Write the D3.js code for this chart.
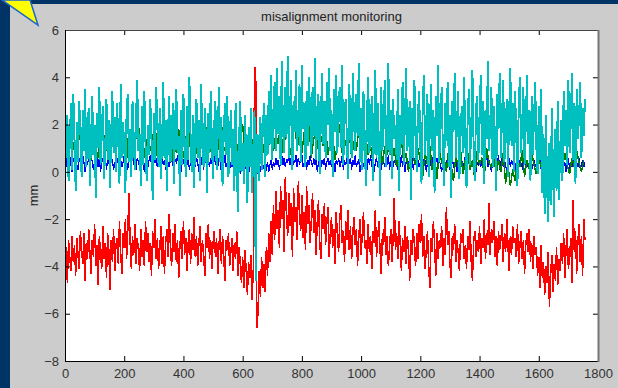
<!DOCTYPE html>
<html lang="en">
<head>
  <meta charset="UTF-8">
  <title>misalignment monitoring</title>
  <style>
    body { margin: 0; background: #003366; }
    svg { display: block; }
    text { font-family: "Liberation Sans", Arial, sans-serif; }
  </style>
</head>
<body>

<svg id="chart" width="618" height="388"></svg>

<script src="https://d3js.org/d3.v7.min.js"></script>

<script>

    // red, cyan, blue: one value every 4 samples; green: every 8 samples
    var redVals = [
      -4.0,-3.2,-4.7,-2.9,-3.6,-4.2,-2.7,-3.8,-3.1,-4.4,
      -2.8,-3.5,-4.1,-2.5,-3.3,-3.9,-2.6,-4.6,-3.0,-3.7,
      -2.4,-3.4,-4.3,-2.9,-3.6,-2.2,-4.0,-3.1,-4.8,-2.7,
      -3.5,-4.1,-2.3,-3.7,-3.0,-4.5,-2.6,-3.3,-5.0,-2.9,
      -3.8,-2.4,-4.2,-3.1,-2.8,-3.9,-2.1,-3.4,-4.3,-2.6,
      -3.2,-2.0,-3.7,-2.5,-0.9,-3.0,-4.1,-2.7,-3.5,-2.2,
      -3.9,-2.8,-3.3,-4.2,-2.4,-3.6,-2.9,-4.0,-2.1,-3.4,
      -2.6,-3.8,-3.0,-4.4,-2.5,-3.2,-2.0,-3.7,-2.8,-4.1,
      -3.3,-2.3,-3.9,-2.7,-4.3,-3.0,-2.4,-3.6,-1.8,-3.2,
      -4.0,-2.6,-3.4,-2.2,-3.8,-2.9,-4.5,-3.1,-2.5,-3.7,
      -2.1,-3.5,-2.8,-4.2,-3.0,-2.4,-3.9,-2.6,-3.3,-1.9,
      -3.6,-2.7,-4.0,-3.1,-2.3,-3.8,-2.9,-3.4,-4.4,-2.6,
      -3.2,-2.2,-3.7,-2.9,-4.1,-3.0,-2.5,-3.6,-2.8,-4.3,
      -3.1,-2.4,-3.9,-2.7,-3.5,-4.6,-2.9,-3.3,-2.6,-4.0,
      -3.4,-2.8,-4.2,-3.0,-3.7,-2.5,-4.4,-3.2,-3.9,-4.7,
      -3.6,-4.9,-3.3,-4.2,-5.2,-3.8,-4.5,-3.5,-5.4,-4.1,
      4.4,4.4,-6.6,-5.9,-4.2,-5.3,-3.6,-4.9,-3.9,-5.1,
      -3.2,-4.4,-2.6,-3.8,-2.1,-3.5,-1.4,-2.9,-0.8,-2.4,
      -1.6,-3.2,-0.6,-2.0,-1.2,-3.4,-0.2,-1.9,-2.7,-0.9,
      -2.3,-1.3,-3.6,-0.7,-2.1,-1.5,-2.9,-0.4,-1.8,-2.5,
      -1.0,-2.8,-1.7,-3.3,-0.6,-2.2,-1.4,-3.0,-2.0,-0.9,
      -2.6,-1.6,-3.5,-2.1,-1.2,-2.9,-3.7,-1.8,-2.4,-1.3,
      -3.1,-2.2,-1.5,-3.6,-2.6,-1.9,-3.2,-2.4,-3.9,-1.7,
      -2.7,-3.4,-2.0,-1.4,-3.0,-2.5,-3.8,-2.1,-2.9,-1.6,
      -3.3,-2.3,-3.7,-2.6,-1.9,-3.1,-2.4,-4.0,-2.8,-2.0,
      -3.5,-2.6,-1.7,-3.2,-2.9,-3.9,-2.2,-3.4,-2.7,-4.1,
      -2.5,-3.0,-1.6,-3.6,-2.8,-2.1,-3.3,-4.3,-2.6,-3.1,
      -1.9,-3.5,-2.7,-4.0,-3.2,-2.4,-3.8,-2.9,-1.1,-3.3,
      -2.6,-3.7,-2.1,-3.0,-4.2,-2.8,-3.4,-2.3,-3.9,-2.7,
      -3.2,-4.6,-2.9,-3.5,-2.4,-3.1,-4.0,-2.6,-3.7,-2.2,
      -3.0,-1.8,-3.6,-2.7,-4.1,-3.3,-2.5,-3.9,-4.9,-2.8,
      -3.4,-2.1,-3.0,-4.4,-2.6,-3.7,-2.9,-3.2,-2.3,-4.0,
      -2.8,-3.5,-1.5,-3.1,-2.5,-3.9,-4.5,-2.7,-3.3,-2.2,
      -3.8,-2.9,-3.4,-4.2,-2.6,-3.0,-2.4,-3.7,-3.1,-4.1,
      -2.7,-3.3,-2.1,-3.8,-4.6,-3.0,-2.5,-3.6,-2.9,-3.4,
      -2.3,-3.9,-2.8,-3.2,-2.0,-3.7,-2.6,-3.1,-1.3,-3.5,
      -2.4,-3.0,-2.1,-3.6,-2.7,-4.0,-2.5,-3.3,-2.9,-2.2,
      -3.8,-2.6,-3.4,-2.0,-3.1,-4.2,-2.7,-3.5,-2.3,-3.0,
      -2.8,-3.6,-2.2,-3.9,-3.2,-2.5,-3.7,-2.9,-4.3,-3.1,
      -2.6,-3.4,-2.4,-3.8,-3.0,-4.1,-2.7,-3.5,-3.2,-4.4,
      -3.6,-4.9,-3.1,-4.5,-3.8,-5.2,-4.0,-4.7,-3.4,-5.7,
      -4.4,-3.5,-5.1,-3.9,-4.6,-3.2,-4.8,-3.7,-4.2,-3.0,
      -3.9,-2.6,-4.5,-3.3,-2.4,-4.1,-3.6,-2.8,-4.7,-1.2,
      -3.4,-2.5,-4.3,-3.0,-2.2,-3.8,-2.7,-4.4,-2.0,-2.9
    ];

    var cyanVals = [
      3.8,0.6,2.4,-0.4,1.2,2.9,0.1,3.3,1.5,-0.8,
      2.1,0.4,3.0,1.7,-0.2,2.6,0.9,3.5,0.2,1.8,
      2.7,-0.6,1.4,3.2,0.7,2.0,-1.1,2.5,1.0,3.6,
      0.3,1.9,2.8,-0.3,1.1,3.1,0.5,2.2,-0.7,1.6,
      3.4,0.8,2.3,0.0,2.9,1.3,-0.5,3.7,0.6,2.1,
      1.2,-0.9,2.6,3.3,0.4,1.8,-0.2,3.0,1.5,0.1,
      2.4,3.9,0.9,1.6,-0.6,2.8,0.3,3.4,1.1,-0.4,
      2.0,0.7,3.1,1.4,-1.2,2.5,0.5,3.6,1.9,0.2,
      2.7,-0.3,1.3,3.8,0.6,2.2,-0.8,1.7,3.2,0.4,
      1.0,2.9,-0.5,2.3,3.5,0.8,1.5,-1.0,2.6,0.3,
      3.3,1.2,-0.2,2.8,0.5,4.0,1.6,0.0,2.4,-0.7,
      1.9,3.1,0.6,2.2,-0.4,3.7,1.0,0.2,2.7,1.4,
      -0.9,2.5,0.8,3.4,1.3,-0.3,2.0,3.0,0.1,1.7,
      3.6,0.4,2.3,-0.6,1.5,2.9,0.7,3.2,-0.2,1.1,
      2.6,0.3,1.8,-0.8,2.9,0.5,-1.7,1.4,3.0,0.0,
      1.2,-0.5,2.4,0.6,-1.3,1.9,0.2,2.7,-0.9,1.0,
      2.6,-4.6,1.6,1.5,-0.4,2.3,0.1,1.8,2.9,-0.2,
      2.4,0.7,3.4,1.2,4.1,0.5,2.6,3.8,0.9,4.4,
      1.6,3.2,0.3,4.7,2.0,0.8,3.6,1.4,4.9,0.6,
      2.8,3.9,0.1,3.0,1.7,4.3,0.9,2.5,3.7,0.4,
      4.5,1.8,2.9,0.2,3.4,1.1,4.0,2.3,0.7,3.6,
      1.5,4.8,0.5,2.7,3.3,-0.1,2.1,4.2,1.2,3.0,
      0.6,3.8,2.0,4.4,0.9,2.6,-0.2,3.5,1.7,4.1,
      0.8,2.9,3.6,1.0,4.5,0.3,2.4,3.1,1.4,-0.3,
      3.7,1.9,0.6,4.2,2.2,0.9,3.3,1.5,4.6,0.4,
      2.7,0.1,3.4,1.6,-0.6,2.5,4.0,0.8,2.0,3.2,
      -0.4,1.8,4.3,0.6,2.9,1.3,-1.0,3.6,0.9,2.3,
      3.9,0.2,1.7,4.6,0.7,2.6,-0.3,3.1,1.4,2.0,
      0.5,3.5,-0.8,2.4,1.2,3.8,0.3,2.1,4.4,0.9,
      1.6,3.0,-1.2,2.7,0.6,3.9,1.9,0.0,2.5,3.4,
      1.1,-0.5,2.8,4.1,0.7,2.2,3.3,-0.2,1.8,3.7,
      0.9,2.6,-0.9,3.2,1.5,4.5,0.4,2.0,3.6,1.0,
      -0.6,2.9,1.3,3.8,0.2,2.4,-1.1,3.0,1.7,4.2,
      0.6,2.1,3.4,-0.3,1.6,2.8,0.8,4.0,1.2,-0.7,
      2.5,3.5,0.3,1.9,4.3,1.0,-0.4,2.7,3.2,0.5,
      2.2,4.1,0.7,3.0,-0.5,2.6,1.4,4.7,0.9,2.0,
      3.6,0.2,2.8,1.5,-0.8,3.3,1.8,4.2,0.6,2.4,
      3.9,0.4,1.7,3.1,-0.2,2.5,4.4,1.1,2.9,0.0,
      3.4,1.6,-0.6,2.7,4.0,0.8,2.1,3.6,0.3,1.9,
      4.1,1.2,2.6,-0.4,3.2,0.7,2.3,3.8,1.0,-0.1,
      2.8,0.5,3.5,-0.9,1.6,-1.8,2.4,-0.6,-2.1,1.2,
      -1.4,2.7,0.0,-1.9,1.8,-0.8,3.0,-1.2,0.9,2.2,
      -0.4,3.4,1.1,2.6,0.3,3.9,0.8,2.0,4.2,0.5,
      2.9,-0.5,3.5,1.4,2.3,3.8,0.6,2.7,1.5,3.1
    ];

    var blueVals = [
      0.2,0.6,0.1,0.5,0.7,0.3,0.0,0.6,0.4,0.8,
      0.3,0.1,0.5,0.6,0.2,0.7,0.4,0.0,0.5,0.3,
      0.6,0.2,0.8,0.4,0.1,0.5,0.3,0.7,0.2,0.6,
      0.0,0.4,0.6,0.3,0.7,0.1,0.5,0.4,0.2,0.6,
      0.5,0.1,0.3,0.7,0.4,0.6,0.0,0.5,0.2,0.4,
      0.7,0.3,0.5,0.1,0.6,0.4,0.2,0.8,0.3,0.5,
      0.1,0.6,0.4,0.2,0.7,0.3,0.5,0.0,0.6,0.4,
      0.2,0.5,0.7,0.3,0.1,0.6,0.4,0.5,0.2,0.7,
      0.4,0.0,0.6,0.3,0.5,0.1,0.7,0.4,0.2,0.5,
      0.6,0.3,0.1,0.5,0.4,0.7,0.2,0.6,0.0,0.4,
      0.5,0.2,0.7,0.3,0.6,0.1,0.4,0.5,0.3,0.8,
      0.2,0.6,0.4,0.0,0.5,0.3,0.7,0.1,0.6,0.4,
      0.3,0.5,0.2,0.6,0.4,0.1,0.7,0.3,0.5,0.2,
      0.6,0.4,0.0,0.5,0.3,0.7,0.2,0.4,0.6,0.1,
      0.4,0.2,0.5,0.0,0.3,0.6,0.1,0.4,-0.1,0.3,
      0.2,-0.2,0.4,0.1,0.3,-0.1,0.2,0.5,0.0,0.3,
      -0.3,0.1,0.2,-0.1,0.3,0.0,0.4,0.1,0.3,-0.2,
      0.2,0.4,0.0,0.3,0.5,0.1,0.4,0.2,0.6,0.3,
      0.5,0.1,0.4,0.7,0.3,0.6,0.2,0.5,0.4,0.8,
      0.3,0.6,0.1,0.5,0.4,0.7,0.2,0.6,0.3,0.5,
      0.7,0.2,0.4,0.6,0.1,0.5,0.3,0.7,0.4,0.2,
      0.6,0.3,0.5,0.0,0.4,0.7,0.2,0.5,0.3,0.6,
      0.1,0.4,0.6,0.3,0.5,0.2,0.7,0.4,0.0,0.5,
      0.3,0.6,0.2,0.4,0.7,0.1,0.5,0.3,0.6,0.2,
      0.4,0.6,0.1,0.5,0.3,0.7,0.2,0.4,0.5,0.0,
      0.3,0.6,0.2,0.5,0.4,0.1,0.6,0.3,0.7,0.2,
      0.5,0.0,0.4,0.6,0.2,0.5,0.3,0.1,0.6,0.4,
      0.2,0.5,0.3,0.7,0.1,0.4,0.6,0.2,0.5,0.3,
      0.6,0.1,0.4,0.3,0.7,0.2,0.5,0.0,0.4,0.6,
      0.3,0.5,0.2,0.6,0.1,0.4,0.7,0.3,0.5,0.2,
      0.4,0.1,0.6,0.3,0.5,0.0,0.4,0.6,0.2,0.5,
      0.3,0.7,0.1,0.4,0.6,0.2,0.5,0.3,0.0,0.4,
      0.6,0.2,0.5,0.3,0.7,0.1,0.4,0.6,0.2,0.3,
      0.5,0.0,0.4,0.6,0.3,0.5,0.1,0.4,0.7,0.2,
      0.4,0.6,0.1,0.3,0.5,0.2,0.6,0.0,0.4,0.3,
      0.5,0.2,0.6,0.3,0.1,0.4,0.7,0.2,0.5,0.3,
      0.0,0.4,0.6,0.2,0.5,0.3,0.7,0.1,0.4,0.6,
      0.2,0.5,0.3,0.0,0.4,0.6,0.2,0.5,0.3,0.7,
      0.1,0.4,0.6,0.3,0.5,0.2,0.4,0.0,0.6,0.3,
      0.5,0.2,0.4,0.6,0.1,0.3,0.5,0.2,0.4,0.0,
      0.3,0.5,0.1,0.4,0.2,0.6,0.0,0.3,0.5,0.2,
      0.4,0.1,0.3,0.6,0.2,0.5,0.0,0.4,0.3,0.1,
      0.5,0.2,0.4,0.0,0.3,0.6,0.1,0.4,0.2,0.5,
      0.3,0.0,0.4,0.2,0.6,0.1,0.3,0.5,0.2,0.4
    ];

    var greenVals = [
      1.4,0.6,1.9,0.8,1.3,0.4,1.7,0.9,2.1,0.7,
      1.2,0.5,1.8,1.0,0.6,1.5,2.0,0.8,1.3,0.4,
      1.6,0.9,2.2,0.7,1.4,1.0,0.5,1.8,1.1,0.6,
      1.5,2.0,0.8,1.2,0.5,1.7,0.9,1.4,2.1,0.6,
      1.1,1.6,0.7,1.9,1.0,0.4,1.5,0.8,1.8,1.2,
      0.6,1.4,2.0,0.9,1.3,0.5,1.7,1.0,1.5,0.7,
      1.9,0.8,1.2,1.6,0.5,1.4,2.1,0.9,1.1,0.6,
      1.5,0.8,1.8,0.6,1.3,2.0,0.7,1.1,0.5,1.4,
      0.4,1.0,0.6,1.5,0.8,1.9,1.1,2.2,0.9,1.6,
      1.2,2.0,0.8,1.5,1.9,0.7,1.3,2.1,1.0,1.6,
      0.8,1.7,1.2,2.0,0.6,1.4,1.8,0.9,1.5,1.1,
      1.9,0.7,1.3,1.6,0.5,1.2,2.0,0.8,1.4,1.0,
      1.7,0.6,1.3,0.9,1.8,0.5,1.2,1.5,0.7,1.1,
      0.4,1.4,0.8,1.6,0.3,1.1,0.7,1.3,0.5,1.0,
      0.2,0.9,1.4,0.4,0.8,0.0,1.2,0.6,0.3,1.0,
      0.5,-0.2,0.8,0.3,1.1,0.1,0.7,-0.3,0.9,0.4,
      0.6,0.0,1.0,0.3,-0.4,0.7,0.2,0.9,-0.1,0.5,
      0.8,0.1,0.5,-0.3,0.9,0.3,0.6,-0.2,1.0,0.4,
      0.2,0.7,-0.1,0.5,0.0,0.8,-0.5,0.3,-0.6,0.1,
      -0.4,0.6,0.2,0.9,-0.2,0.5,0.1,0.8,0.3,-0.1,
      0.6,0.2,0.9,-0.3,0.4,0.0,0.7,0.3,-0.2,0.5,
      0.1,0.8,0.3,-0.1,0.6,0.2,0.9,0.4,0.0,0.5
    ];

    var xTicks = [0, 200, 400, 600, 800, 1000, 1200, 1400, 1600, 1800];
    var yTicks = [-8, -6, -4, -2, 0, 2, 4, 6];

    // drawing order: red underneath, cyan on top
    var series = [
      { name: "red",   color: "#ff0000", step: 4, width: 1.5, values: redVals },
      { name: "blue",  color: "#0000ff", step: 4, width: 1.2, values: blueVals },
      { name: "green", color: "#008000", step: 8, width: 1.5, values: greenVals },
      { name: "cyan",  color: "#00bfbf", step: 4, width: 1.9, values: cyanVals }
    ];

    (function () {
      var svg = d3.select("#chart"),
          width = +svg.attr("width"),
          height = +svg.attr("height"),
          pl = 65, pr = 598, pt = 30, pb = 361;

      var x = d3.scaleLinear().domain([0, 1800]).range([pl, pr]),
          y = d3.scaleLinear().domain([-8, 6]).range([pb, pt]);

      // figure background
      svg.append("rect").attr("width", width).attr("height", height).attr("fill", "#003366");
      svg.append("rect").attr("x", 10).attr("y", 4).attr("width", width - 10).attr("height", height - 4)
        .attr("fill", "#cccccc");

      // plot area
      svg.append("rect").attr("x", pl).attr("y", pt)
        .attr("width", pr - pl).attr("height", pb - pt).attr("fill", "#ffffff");

      svg.append("clipPath").attr("id", "clip")
        .append("rect").attr("x", pl).attr("y", pt)
        .attr("width", pr - pl).attr("height", pb - pt);

      // matlab draws these without antialiasing
      var g = svg.append("g").attr("clip-path", "url(#clip)");
      series.forEach(function (s) {
        var line = d3.line()
          .x(function (d, i) { return x(i * s.step); })
          .y(function (d) { return y(d); });
        g.append("path")
          .attr("d", line(s.values))
          .attr("fill", "none")
          .attr("stroke", s.color)
          .attr("stroke-width", s.width)
          .attr("shape-rendering", "crispEdges");
      });

      // axes, ticks point inward like matlab
      var axisStyle = function (sel) {
        sel.selectAll("text")
          .attr("font-family", "'Liberation Sans', Arial, sans-serif")
          .attr("font-size", 13)
          .attr("fill", "#333");
        sel.selectAll("line").attr("stroke", "#000");
        sel.select(".domain").remove();
      };

      svg.append("g")
        .attr("transform", "translate(0," + pb + ")")
        .call(d3.axisBottom(x).tickValues(xTicks).tickSize(-5).tickPadding(8).tickFormat(d3.format("d")))
        .call(axisStyle);

      svg.append("g")
        .attr("transform", "translate(" + pl + ",0)")
        .call(d3.axisLeft(y).tickValues(yTicks).tickSize(-5).tickPadding(6).tickFormat(d3.format("d")))
        .call(axisStyle);

      svg.append("g")
        .attr("transform", "translate(0," + pt + ")")
        .call(d3.axisTop(x).tickValues(xTicks).tickSize(-5).tickFormat(""))
        .call(axisStyle);

      svg.append("g")
        .attr("transform", "translate(" + pr + ",0)")
        .call(d3.axisRight(y).tickValues(yTicks).tickSize(-5).tickFormat(""))
        .call(axisStyle);

      // box
      svg.append("path")
        .attr("d", "M" + pl + "," + (pt + 0.5) + "H" + pr)
        .attr("stroke", "#444").attr("fill", "none");
      svg.append("path")
        .attr("d", "M" + (pl + 0.5) + "," + pt + "V" + (pb + 0.5) + "H" + pr)
        .attr("stroke", "#000").attr("fill", "none");
      svg.append("path")
        .attr("d", "M" + (pr + 0.5) + "," + pt + "V" + (pb + 1))
        .attr("stroke", "#777").attr("stroke-width", 2).attr("fill", "none");

      // title and label
      svg.append("text")
        .attr("x", (pl + pr) / 2).attr("y", 21)
        .attr("text-anchor", "middle")
        .attr("font-size", 13).attr("fill", "#222")
        .text("misalignment monitoring");

      svg.append("text")
        .attr("transform", "translate(38," + ((pt + pb) / 2) + ") rotate(-90)")
        .attr("text-anchor", "middle")
        .attr("font-size", 13).attr("fill", "#222")
        .text("mm");

      // yellow pointer in the corner
      svg.append("polygon")
        .attr("points", "2,0 30,0 38,25")
        .attr("fill", "#ffff00")
        .attr("stroke", "#1a66cc")
        .attr("stroke-width", 1.5);
    })();

</script>

</body>
</html>
